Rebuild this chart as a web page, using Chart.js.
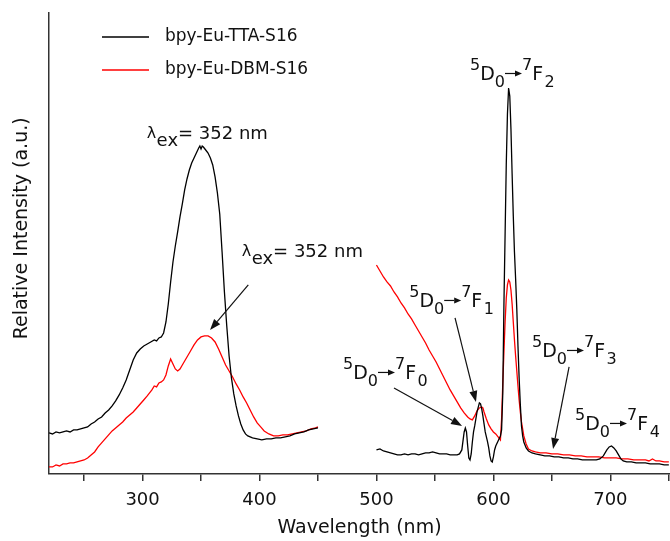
<!DOCTYPE html>
<html>
<head>
<meta charset="utf-8">
<script src="https://cdn.jsdelivr.net/npm/chart.js@4.4.1/dist/chart.umd.min.js"></script>
<style>
  body { margin: 0; background: #fff; }
  #wrap { width: 670px; height: 541px; }
</style>
</head>
<body>
<div id="wrap"><canvas id="grafico"></canvas></div>
<script>
// excitation / emission spectra, wavelength in nm, intensity in a.u.
const ttaExWl = [220,223,226,229,232,235,238,241,244,247,250,253,256,259,262,265,268,271,274,277,280,283,286,289,292,295,298,301,304,307,310,312,314,316,318,320,322,324,326,328,330,332,334,336,338,340,342,344,346,348,349,350,351,352,354,356,358,360,362,364,366,368,370,372,374,376,378,380,382,384,386,388,390,394,398,402,406,410,414,418,422,426,430,434,438,442,446,450];
const ttaExI  = [41,40,42,41,42,43,42,44,44,45,46,47,50,52,55,57,61,64,68,73,79,86,94,104,114,121,125,128,130,132,134,133,136,137,141,152,170,192,212,228,242,257,270,284,295,304,311,316,321,326,328,325,328,327,324,321,316,309,297,281,260,222,182,148,118,96,80,68,58,50,44,40,38,36,35,34,35,35,36,36,37,38,40,41,42,44,45,46];

const ttaEmWl = [500,503,506,509,512,515,518,521,524,527,530,533,536,539,542,545,548,551,554,557,560,563,566,569,571,573,574,575,576,577,578,579,580,581,582,583,584,586,588,589,590,591,592,593,594,595,596,597,598,599,600,601,602,604,606,607,608,609,610,611,612,613,614,615,616,617,618,619,620,621,622,623,624,625,626,628,630,633,636,640,644,648,652,656,660,664,668,672,676,680,684,688,691,694,697,699,701,703,705,707,709,711,714,718,722,726,730,734,738,742,746,750];
const ttaEmI  = [24,25,23,22,21,20,19,19,20,19,20,20,19,20,21,21,22,21,20,20,20,19,19,19,20,24,33,42,46,42,28,16,14,20,32,42,48,62,71,70,65,58,50,42,37,32,26,18,13,12,17,24,28,33,38,44,80,170,240,310,360,386,378,345,300,258,222,195,165,128,96,70,48,38,32,26,23,21,20,19,18,18,17,17,16,16,15,15,14,14,14,14,15,18,24,27,28,26,23,19,15,13,12,12,11,11,11,10,10,10,9,9];

const dbmExWl = [220,223,226,229,232,235,238,241,244,247,250,253,256,259,262,265,268,271,274,277,280,283,286,289,292,295,298,301,304,306,308,310,312,314,316,318,320,322,324,326,328,330,332,334,336,338,341,344,347,350,353,356,359,362,365,368,371,374,377,380,383,386,389,392,395,398,401,404,408,412,416,420,424,428,432,436,440,444,448,450];
const dbmExI  = [7,7,9,8,10,10,11,11,12,13,14,16,19,22,27,31,35,39,43,46,49,52,56,59,62,66,70,74,78,81,84,88,87,91,92,94,99,108,115,110,105,103,105,109,113,117,123,129,134,137,138,138,136,132,125,117,109,103,97,90,84,77,71,64,57,51,47,43,40,38,38,39,39,40,41,42,43,45,46,47];

const dbmEmWl = [500,503,506,509,512,515,518,521,524,527,530,533,536,539,542,545,548,551,554,557,560,563,566,569,572,575,578,580,582,584,586,588,590,591,592,594,596,598,600,602,604,606,607,608,609,610,611,612,613,614,615,616,617,618,619,620,621,622,623,624,626,628,630,633,636,640,645,650,655,660,665,670,675,680,685,690,695,700,705,710,715,720,725,730,733,736,739,742,746,750];
const dbmEmI  = [209,203,197,192,188,182,177,171,166,160,155,149,143,137,131,124,118,112,105,98,91,84,78,72,66,61,57,55,54,58,63,66,67,66,62,55,49,45,42,40,37,34,55,90,122,152,176,189,194,192,184,170,152,134,118,103,88,74,62,52,38,30,25,23,22,21,21,20,20,19,19,18,18,17,17,17,16,16,16,15,15,14,14,14,13,15,13,13,12,12];

const seriesNames = ['bpy-Eu-TTA-S16', 'bpy-Eu-DBM-S16'];
const xTicks = [300, 400, 500, 600, 700];

// label anchors in data units (wavelength, intensity)
const transitions = [
  { n: '2', at: [580, 394] },
  { n: '1', at: [528, 167] },
  { n: '0', at: [471.4, 95] },
  { n: '3', at: [633, 117] },
  { n: '4', at: [669.8, 44] }
];
const lambdaLabels = [[303.5, 334.5], [384.8, 216.5]];
const pointers = [
  [[390.4, 189], [357.7, 144]],
  [[515, 86], [573.2, 48]],
  [[567.2, 156], [585.1, 72]],
  [[664.7, 107], [651, 25]]
];

function toPoints(wl, vals) {
  return wl.map((w, i) => ({ x: w, y: vals[i] }));
}

const FONT = '"DejaVu Sans"';

function arrow(ctx, x1, y1, x2, y2, head, half) {
  const a = Math.atan2(y2 - y1, x2 - x1);
  const bx = x2 - head * Math.cos(a), by = y2 - head * Math.sin(a);
  ctx.beginPath();
  ctx.moveTo(x1, y1);
  ctx.lineTo(bx, by);
  ctx.stroke();
  ctx.beginPath();
  ctx.moveTo(x2, y2);
  ctx.lineTo(bx + half * Math.sin(a), by - half * Math.cos(a));
  ctx.lineTo(bx - half * Math.sin(a), by + half * Math.cos(a));
  ctx.closePath();
  ctx.fill();
}

function drawTerm(ctx, x, y, n) {
  const big = '19px ' + FONT, small = '16px ' + FONT;
  ctx.font = small; ctx.fillText('5', x, y - 10); x += ctx.measureText('5').width;
  ctx.font = big; ctx.fillText('D', x, y); x += ctx.measureText('D').width;
  ctx.font = small; ctx.fillText('0', x, y + 7); x += ctx.measureText('0').width;
  ctx.lineWidth = 1.2;
  arrow(ctx, x, y - 6.5, x + 17, y - 6.5, 7, 3); x += 17;
  ctx.fillText('7', x, y - 10); x += ctx.measureText('7').width;
  ctx.font = big; ctx.fillText('F', x, y); x += ctx.measureText('F').width + 1.5;
  ctx.font = small; ctx.fillText(n, x, y + 7);
}

function drawLambda(ctx, x, y) {
  ctx.font = '16px ' + FONT; ctx.fillText('λ', x, y - 1);
  x += ctx.measureText('λ').width + 0.5;
  ctx.font = '18px ' + FONT; ctx.fillText('ex', x, y + 7);
  x += ctx.measureText('ex').width;
  ctx.fillText('= 352 nm', x, y);
}

const notes = {
  id: 'notes',
  afterDatasetsDraw(chart) {
    const { ctx, chartArea: area, scales: { x, y } } = chart;
    ctx.save();
    ctx.fillStyle = '#111';
    ctx.strokeStyle = '#111';
    ctx.textBaseline = 'alphabetic';
    ctx.textAlign = 'left';

    transitions.forEach(t => drawTerm(ctx, x.getPixelForValue(t.at[0]), y.getPixelForValue(t.at[1]), t.n));
    lambdaLabels.forEach(p => drawLambda(ctx, x.getPixelForValue(p[0]), y.getPixelForValue(p[1])));

    ctx.lineWidth = 1.2;
    pointers.forEach(p => arrow(ctx,
      x.getPixelForValue(p[0][0]), y.getPixelForValue(p[0][1]),
      x.getPixelForValue(p[1][0]), y.getPixelForValue(p[1][1]), 11, 4));

    // legend
    ctx.font = '17px ' + FONT;
    ctx.textBaseline = 'middle';
    chart.data.datasets.forEach((ds, i) => {
      const ly = area.top + 24 + i * 33;
      ctx.strokeStyle = ds.borderColor;
      ctx.lineWidth = 1.5;
      ctx.beginPath();
      ctx.moveTo(area.left + 53, ly);
      ctx.lineTo(area.left + 100, ly);
      ctx.stroke();
      ctx.fillStyle = '#111';
      ctx.fillText(ds.label, area.left + 116, ly);
    });
    ctx.restore();
  }
};

new Chart(document.getElementById('grafico'), {
  type: 'line',
  data: {
    datasets: [
      {
        label: seriesNames[0],
        data: toPoints(ttaExWl, ttaExI).concat([{ x: 475, y: null }], toPoints(ttaEmWl, ttaEmI)),
        borderColor: '#000000',
        borderWidth: 1.3,
        pointRadius: 0,
        tension: 0
      },
      {
        label: seriesNames[1],
        data: toPoints(dbmExWl, dbmExI).concat([{ x: 475, y: null }], toPoints(dbmEmWl, dbmEmI)),
        borderColor: '#ff0000',
        borderWidth: 1.3,
        pointRadius: 0,
        tension: 0
      }
    ]
  },
  options: {
    responsive: true,
    maintainAspectRatio: false,
    animation: false,
    layout: { padding: { top: 13, right: 0, bottom: 0, left: 0 } },
    plugins: {
      legend: { display: false },
      tooltip: { enabled: false }
    },
    scales: {
      x: {
        type: 'linear',
        min: 220,
        max: 751,
        border: { display: true, color: '#333', width: 1.5 },
        grid: { display: true, drawOnChartArea: false, drawTicks: true, tickLength: 7, color: '#333', lineWidth: 1.5 },
        ticks: {
          stepSize: 50,
          includeBounds: false,
          autoSkip: false,
          maxRotation: 0,
          padding: 0,
          color: '#111',
          font: { family: 'DejaVu Sans', size: 18, lineHeight: 2.17 },
          callback: v => xTicks.includes(v) ? String(v) : ''
        },
        title: {
          display: true,
          text: 'Wavelength (nm)',
          color: '#111',
          font: { family: 'DejaVu Sans', size: 19, lineHeight: 0.9 },
          padding: { top: 0, bottom: 3.9 }
        }
      },
      y: {
        min: 0,
        max: 461,
        border: { display: true, color: '#333', width: 1.5 },
        grid: { display: false },
        ticks: { display: false },
        title: {
          display: true,
          text: '     Relative Intensity (a.u.)',
          color: '#111',
          font: { family: 'DejaVu Sans', size: 19 },
          padding: { top: 10.6, bottom: 7.6 }
        }
      }
    }
  },
  plugins: [notes]
});
</script>
</body>
</html>
